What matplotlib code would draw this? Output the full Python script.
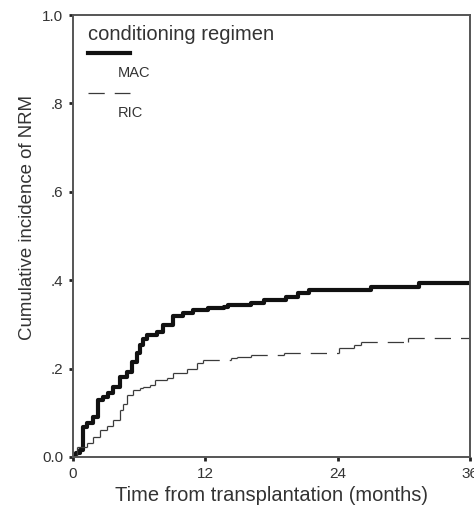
import matplotlib
matplotlib.use('Agg')
import matplotlib.pyplot as plt
from matplotlib.collections import LineCollection

plt.rcParams['font.family'] = ['Liberation Sans', 'DejaVu Sans']

# step curves (months, cumulative incidence)
mac_t = [0, 0.3, 0.64, 0.94, 1.24, 1.85, 2.3, 2.75, 3.2, 3.66, 4.27, 4.88,
         5.33, 5.79, 6.1, 6.39, 6.7, 7.6, 8.2, 9.1, 10.0, 10.9, 12.2, 13.7,
         14.1, 16.1, 17.3, 19.3, 20.4, 21.4, 27.0, 31.4, 36]
mac_y = [0, 0.008, 0.016, 0.068, 0.077, 0.09, 0.129, 0.136, 0.145, 0.158,
         0.181, 0.192, 0.215, 0.235, 0.253, 0.268, 0.276, 0.283, 0.299,
         0.318, 0.325, 0.333, 0.336, 0.34, 0.344, 0.348, 0.355, 0.362, 0.37,
         0.378, 0.385, 0.393, 0.393]
ric_t = [0, 0.33, 1.24, 1.85, 2.45, 3.06, 3.66, 4.27, 4.57, 4.88, 5.48, 6.1,
         6.39, 7.0, 7.45, 8.5, 9.1, 10.3, 11.2, 11.8, 14.3, 14.9, 16.1, 19.1,
         24.1, 25.5, 26.1, 30.4, 36]
ric_y = [0, 0.023, 0.031, 0.046, 0.061, 0.069, 0.084, 0.106, 0.121, 0.14,
         0.152, 0.155, 0.158, 0.163, 0.174, 0.178, 0.189, 0.2, 0.212, 0.219,
         0.223, 0.227, 0.231, 0.235, 0.247, 0.253, 0.26, 0.269, 0.269]

xticks = [0, 12, 24, 36]
yticks = [0, 0.2, 0.4, 0.6, 0.8, 1.0]
ytick_labels = ['0.0', '.2', '.4', '.6', '.8', '1.0']

txt = '#333333'

fig = plt.figure(figsize=(4.74, 5.11), dpi=100)
ax = fig.add_axes([0.154, 0.1057, 0.8376, 0.8649])

ax.step(mac_t, mac_y, where='post', color='#111111', lw=3.0,
        solid_joinstyle='round')


def step_segments(t, y):
    segs = []
    for i in range(len(t) - 1):
        segs.append([(t[i], y[i]), (t[i + 1], y[i])])
        segs.append([(t[i + 1], y[i]), (t[i + 1], y[i + 1])])
    return segs


ric = LineCollection(step_segments(ric_t, ric_y), colors='#3a3a3a',
                     linewidths=0.9, linestyles=[(0, (13, 8))])
ax.add_collection(ric)

ax.set_xlim(0, 36)
ax.set_ylim(0, 1.0)
ax.set_xticks(xticks)
ax.set_xticklabels([str(v) for v in xticks])
ax.set_yticks(yticks)
ax.set_yticklabels(ytick_labels)
ax.tick_params(direction='out', length=3, width=2, color='#222222',
               labelsize=11, labelcolor=txt, pad=4)
for s in ax.spines.values():
    s.set_color('#555555')
    s.set_linewidth(1.4)

ax.set_xlabel('Time from transplantation (months)', fontsize=14.5,
              color=txt, labelpad=4)
fig.text(0.059, 0.575, 'Cumulative incidence of NRM', rotation=90,
         fontsize=13.4, color=txt, ha='center', va='center')

# legend block, laid out like the original
ax.text(0.037, 0.957, 'conditioning regimen', transform=ax.transAxes,
        fontsize=14.5, color=txt, ha='left', va='center')
ax.plot([0.038, 0.143], [0.914, 0.914], transform=ax.transAxes,
        color='#111111', lw=3.0)
ax.text(0.112, 0.869, 'MAC', transform=ax.transAxes, fontsize=10.5,
        color=txt, ha='left', va='center')
ax.plot([0.038, 0.143], [0.824, 0.824], transform=ax.transAxes,
        color='#3a3a3a', lw=0.9, dashes=(13, 8))
ax.text(0.112, 0.778, 'RIC', transform=ax.transAxes, fontsize=10.5,
        color=txt, ha='left', va='center')

fig.savefig('out.png', dpi=100)
